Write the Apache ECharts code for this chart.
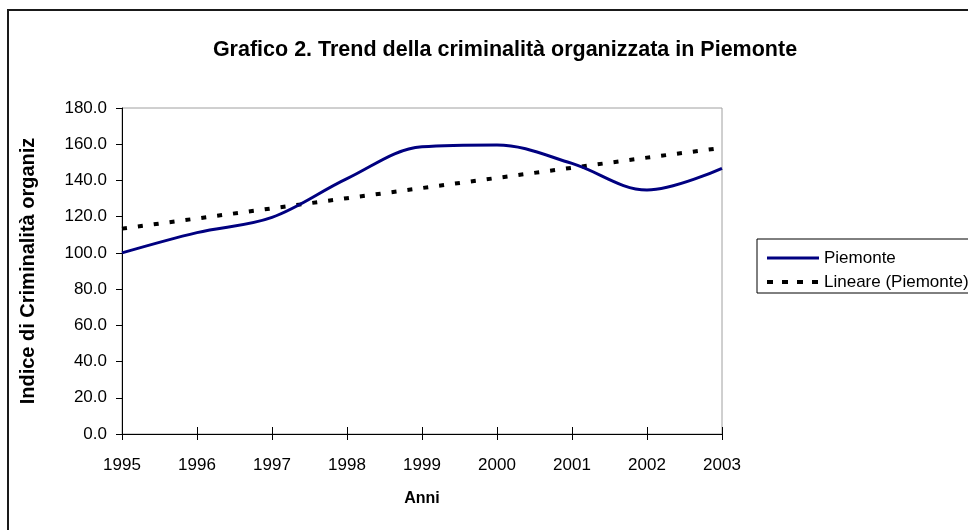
<!DOCTYPE html>
<html>
<head>
<meta charset="utf-8">
<script src="https://cdn.jsdelivr.net/npm/echarts@6/dist/echarts.min.js"></script>
<style>
  html, body { margin: 0; padding: 0; background: #fff; }
  #chart { width: 968px; height: 530px; }
</style>
</head>
<body>
<div id="chart"></div>
<script>
// valori
const years = ['1995', '1996', '1997', '1998', '1999', '2000', '2001', '2002', '2003'];
const piemonte = [100.0, 111.2, 119.6, 141.0, 158.6, 159.6, 149.4, 134.7, 146.7];
const lineare = [113.4, 119.0, 124.6, 130.2, 135.8, 141.4, 147.0, 152.6, 158.0];
const yTicks = [0, 20, 40, 60, 80, 100, 120, 140, 160, 180];

const font = 'Arial, "Liberation Sans", sans-serif';

const chartDom = document.getElementById('chart');
const myChart = echarts.init(chartDom);

const option = {
  animation: false,
  backgroundColor: '#fff',
  textStyle: { fontFamily: font, color: '#000' },
  title: {
    text: 'Grafico 2. Trend della criminalità organizzata in Piemonte',
    left: 500,
    textAlign: 'center',
    top: 34,
    textStyle: { fontSize: 21.5, fontWeight: 'bold', color: '#000', fontFamily: font }
  },
  graphic: [
    {
      type: 'rect',
      shape: { x: 8, y: 10, width: 1000, height: 600 },
      style: { fill: 'none', stroke: '#1a1a1a', lineWidth: 2 },
      z: 100
    }
  ],
  legend: {
    orient: 'vertical',
    left: 757,
    top: 239,
    padding: [10, 40, 2, 8],
    itemWidth: 52,
    itemHeight: 18,
    itemGap: 6,
    borderColor: '#000',
    borderWidth: 1,
    itemStyle: { opacity: 0 },
    textStyle: { fontSize: 17, lineHeight: 18, color: '#000', fontFamily: font },
    data: [
      { name: 'Piemonte', lineStyle: { width: 3, color: '#000080' } },
      { name: 'Lineare (Piemonte)', lineStyle: { width: 4, color: '#000', type: [6, 9], cap: 'butt' } }
    ]
  },
  grid: {
    left: 122,
    right: 246,
    top: 108,
    bottom: 96,
    show: true,
    borderColor: '#a0a0a0',
    borderWidth: 1
  },
  xAxis: [
    {
      type: 'category',
      data: years,
      boundaryGap: false,
      name: 'Anni',
      nameLocation: 'middle',
      nameGap: 57,
      nameTextStyle: { fontSize: 16, fontWeight: 'bold', color: '#000' },
      axisLine: { lineStyle: { color: '#000', width: 1 } },
      axisTick: { inside: false, length: 6, lineStyle: { color: '#000' } },
      axisLabel: { fontSize: 17, color: '#000', margin: 23 },
      splitLine: { show: false }
    },
    {
      type: 'category',
      data: years,
      boundaryGap: false,
      position: 'bottom',
      offset: 0,
      axisLine: { show: false },
      axisTick: { inside: true, length: 7, lineStyle: { color: '#000' } },
      axisLabel: { show: false },
      splitLine: { show: false }
    }
  ],
  yAxis: {
    type: 'value',
    min: yTicks[0],
    max: yTicks[yTicks.length - 1],
    interval: yTicks[1] - yTicks[0],
    name: 'Indice di Criminalità organiz',
    nameLocation: 'middle',
    nameGap: 84,
    nameTextStyle: { fontSize: 20, fontWeight: 'bold', color: '#000' },
    axisLine: { show: true, lineStyle: { color: '#000', width: 1 } },
    axisTick: { show: true, inside: false, length: 6, lineStyle: { color: '#000' } },
    axisLabel: {
      fontSize: 17,
      color: '#000',
      margin: 15,
      formatter: v => v.toFixed(1)
    },
    splitLine: { show: false }
  },
  series: [
    {
      name: 'Piemonte',
      type: 'line',
      data: piemonte,
      smooth: 0.35,
      showSymbol: false,
      symbol: 'none',
      lineStyle: { color: '#000080', width: 3 },
      itemStyle: { color: '#000080' },
      z: 3
    },
    {
      name: 'Lineare (Piemonte)',
      type: 'line',
      data: lineare,
      showSymbol: false,
      symbol: 'none',
      lineStyle: { color: '#000', width: 4, type: [5, 11], cap: 'butt' },
      itemStyle: { color: '#000' },
      z: 2
    }
  ]
};

option && myChart.setOption(option);
</script>
</body>
</html>
